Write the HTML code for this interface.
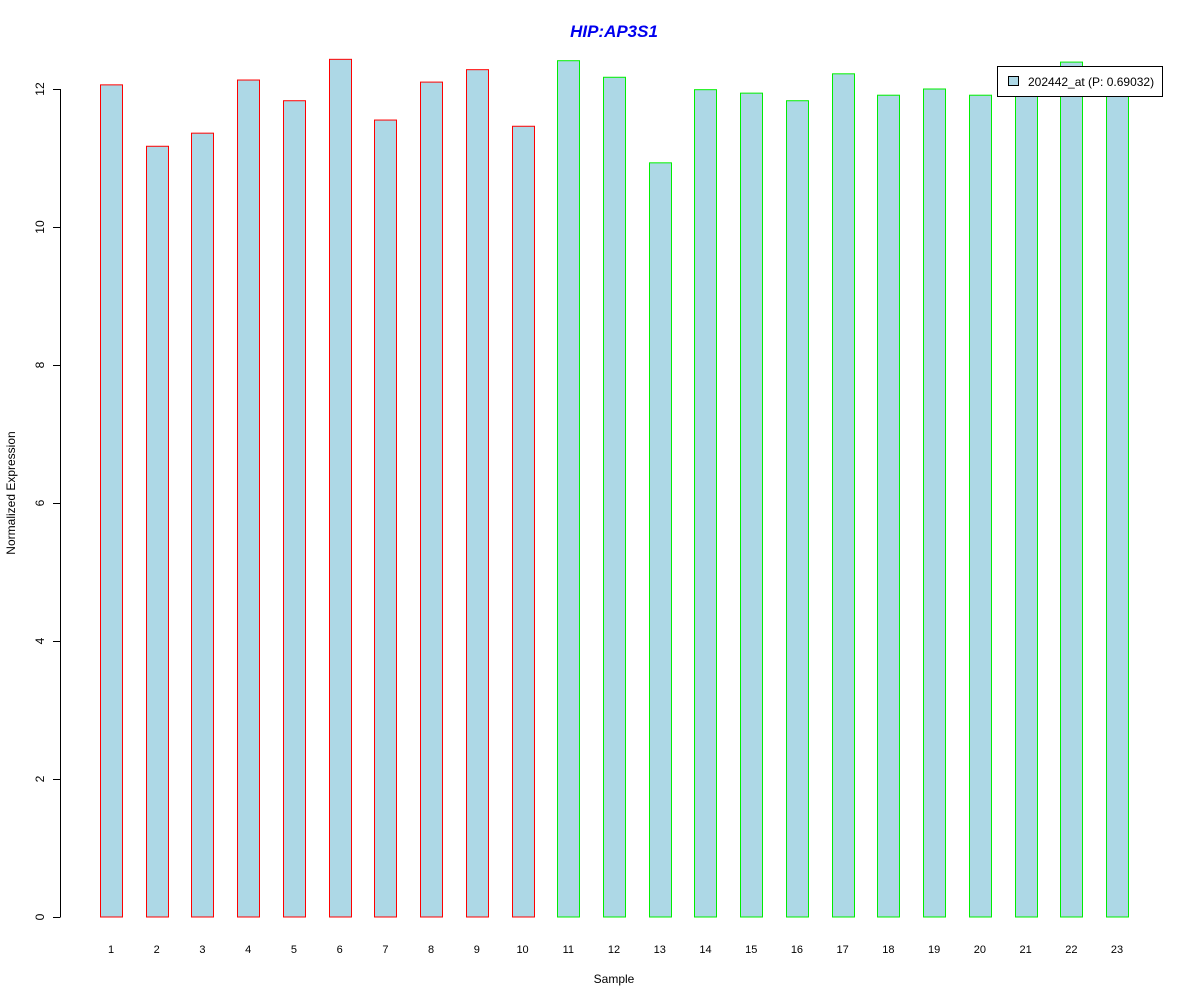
<!DOCTYPE html>
<html><head><meta charset="utf-8"><style>
body{margin:0;background:#fff;}
svg{display:block;font-family:"Liberation Sans",Arial,sans-serif;}
</style></head><body>
<svg id="chart" width="1200" height="1000" xmlns="http://www.w3.org/2000/svg">
<text x="614" y="37" text-anchor="middle" font-size="17" font-weight="bold" font-style="italic" fill="#0000ee">HIP:AP3S1</text>
<text x="614" y="983" text-anchor="middle" font-size="12">Sample</text>
<text x="15" y="493" text-anchor="middle" font-size="12" transform="rotate(-90 15 493)">Normalized Expression</text>
<g id="yaxis"></g>
<g id="bars"></g>
<g id="xlabels"></g>
<g>
<rect x="997.5" y="66.5" width="165" height="30" fill="#fff" stroke="#000"/>
<rect x="1008.5" y="76.5" width="10" height="9" fill="#add8e6" stroke="#000"/>
<text x="1028" y="86" font-size="12">202442_at (P: 0.69032)</text>
</g>
</svg>
<script>
const categories=["1","2","3","4","5","6","7","8","9","10","11","12","13","14","15","16","17","18","19","20","21","22","23"];
const values=[12.06,11.17,11.36,12.13,11.83,12.43,11.55,12.10,12.28,11.46,12.41,12.17,10.93,11.99,11.94,11.83,12.22,11.91,12.0,11.91,11.9,12.39,11.9];
const groups=["a","a","a","a","a","a","a","a","a","a","b","b","b","b","b","b","b","b","b","b","b","b","b"];
const yTicks=[0,2,4,6,8,10,12];
const NS="http://www.w3.org/2000/svg";
const y=v=>917-v*69;
const x=i=>111+i*45.73;
function mk(tag,attrs,parent){const e=document.createElementNS(NS,tag);for(const k in attrs)e.setAttribute(k,attrs[k]);parent.appendChild(e);return e;}
const ya=document.getElementById('yaxis');
const bl=mk('line',{x1:60.5,x2:60.5,y1:y(0),y2:y(12),stroke:'#000'},ya);


yTicks.forEach(t=>{
 const l=mk('line',{x1:53,x2:60.5,y1:Math.round(y(t))+0.5,y2:Math.round(y(t))+0.5,stroke:'#000'},ya);
 
 
 const tx=mk('text',{x:44,y:y(t),'text-anchor':'middle','font-size':12,transform:`rotate(-90 44 ${y(t)})`},ya);
 tx.textContent=t;
 
 
});
const bg=document.getElementById('bars'),xl=document.getElementById('xlabels');
values.forEach((v,i)=>{
 const r=mk('rect',{x:Math.round(x(i)-11)+0.5,y:y(v),width:22,height:y(0)-y(v),fill:'#add8e6',stroke:groups[i]==='a'?'#ff0000':'#00ee00'},bg);
 
 
 const t=mk('text',{x:x(i),y:953,'text-anchor':'middle','font-size':11},xl);
 t.textContent=categories[i];
 
 
});
</script>
</body></html>
